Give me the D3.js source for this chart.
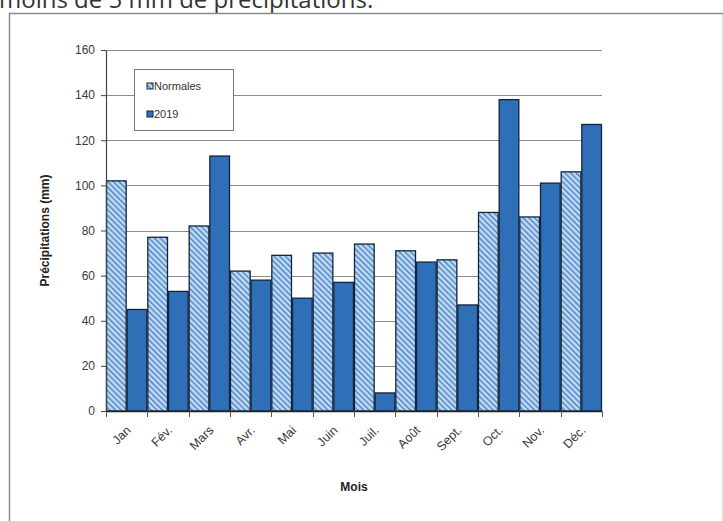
<!DOCTYPE html>
<html>
<head>
<meta charset="utf-8">
<script src="https://cdn.jsdelivr.net/npm/d3@7"></script>
<style>
  html, body { margin: 0; padding: 0; background: #fff; }
  svg { display: block; }
</style>
</head>
<body>
<svg id="chart" width="723" height="521"></svg>
<script>
// Monthly precipitation: climate normals vs. 2019 (mm)
const months = ["Jan", "Fév.", "Mars", "Avr.", "Mai", "Juin", "Juil.", "Août", "Sept.", "Oct.", "Nov.", "Déc."];
const normales = [102, 77, 82, 62, 69, 70, 74, 71, 67, 88, 86, 106];
const annee2019 = [45, 53, 113, 58, 50, 57, 8, 66, 47, 138, 101, 127];
const seriesNames = ["Normales", "2019"];
const yTicks = [0, 20, 40, 60, 80, 100, 120, 140, 160];

const svg = d3.select("#chart");
const W = 723, H = 521;
const margin = { left: 106, right: 121, top: 50, bottom: 110 };
const font = "'Liberation Sans', Arial, sans-serif";

// Preceding paragraph text, partially scrolled out of view
svg.append("text")
  .attr("x", -1).attr("y", 8)
  .attr("font-family", "'Open Sans', sans-serif")
  .attr("font-size", 24)
  .attr("fill", "#333")
  .text("moins de 5 mm de précipitations.");

// Chart frame
svg.append("rect")
  .attr("x", 9.5).attr("y", 13.5)
  .attr("width", W - 9).attr("height", H)
  .attr("fill", "#fff")
  .attr("stroke", "#8a8a8a").attr("stroke-width", 1.5);

const defs = svg.append("defs");
const hatch = defs.append("pattern")
  .attr("id", "hatch")
  .attr("patternUnits", "userSpaceOnUse")
  .attr("width", 4).attr("height", 4)
  .attr("patternTransform", "rotate(-45)");
hatch.append("rect").attr("width", 4).attr("height", 4).attr("fill", "#c0dbf4");
hatch.append("rect").attr("width", 1.4).attr("height", 4).attr("fill", "#4a80c2");

const fills = ["url(#hatch)", "#2e6fb8"];

const x0 = d3.scaleBand()
  .domain(months)
  .range([margin.left, W - margin.right])
  .paddingInner(0).paddingOuter(0);
const x1 = d3.scaleBand()
  .domain(seriesNames)
  .range([0, x0.bandwidth()])
  .padding(0);
const y = d3.scaleLinear()
  .domain([0, 160])
  .range([H - margin.bottom, margin.top]);

// Horizontal gridlines
svg.append("g")
  .selectAll("line")
  .data(yTicks.filter(d => d > 0))
  .join("line")
  .attr("x1", margin.left).attr("x2", W - margin.right)
  .attr("y1", d => Math.round(y(d)) + 0.5).attr("y2", d => Math.round(y(d)) + 0.5)
  .attr("stroke", "#8c8c8c").attr("stroke-width", 1);

// Bars
const rows = months.map((m, i) => ({ month: m, values: [normales[i], annee2019[i]] }));
const groups = svg.append("g")
  .selectAll("g")
  .data(rows)
  .join("g")
  .attr("transform", d => `translate(${x0(d.month)},0)`);
groups.selectAll("rect")
  .data(d => d.values.map((v, j) => ({ name: seriesNames[j], value: v, j })))
  .join("rect")
  .attr("x", d => x1(d.name) + 0.5)
  .attr("width", x1.bandwidth() - 1)
  .attr("y", d => y(d.value))
  .attr("height", d => y(0) - y(d.value))
  .attr("fill", d => fills[d.j])
  .attr("stroke", "#14243a").attr("stroke-width", 1.3);

// Y axis
const yAxis = d3.axisLeft(y).tickValues(yTicks).tickSize(5).tickPadding(6).tickSizeOuter(0);
const gy = svg.append("g")
  .attr("transform", `translate(${margin.left},0)`)
  .call(yAxis);
gy.select(".domain").attr("stroke", "#444").attr("stroke-width", 1.2);
gy.selectAll(".tick line").attr("stroke", "#444");
gy.selectAll(".tick text")
  .attr("font-family", font)
  .attr("font-size", 12).attr("fill", "#3a3a3a");

// X axis with ticks at category boundaries
const gx = svg.append("g")
  .attr("transform", `translate(0,${y(0)})`);
gx.append("line")
  .attr("x1", margin.left).attr("x2", W - margin.right)
  .attr("y1", 0.5).attr("y2", 0.5)
  .attr("stroke", "#222").attr("stroke-width", 1.4);
const bounds = months.map(m => x0(m)).concat([x0(months[months.length - 1]) + x0.bandwidth()]);
gx.selectAll("line.tick")
  .data(bounds)
  .join("line")
  .attr("class", "tick")
  .attr("x1", d => Math.round(d) + 0.5).attr("x2", d => Math.round(d) + 0.5)
  .attr("y1", 0).attr("y2", 6)
  .attr("stroke", "#555");
gx.selectAll("text")
  .data(months)
  .join("text")
  .attr("transform", d => `translate(${x0(d) + x0.bandwidth() / 2 + 5},${20}) rotate(-45)`)
  .attr("text-anchor", "end")
  .attr("font-family", font)
  .attr("font-size", 12.5).attr("fill", "#3a3a3a")
  .text(d => d);

// Axis titles
svg.append("text")
  .attr("transform", `translate(49,${(margin.top + y(0)) / 2}) rotate(-90)`)
  .attr("text-anchor", "middle")
  .attr("font-family", font)
  .attr("font-size", 12).attr("font-weight", "bold").attr("fill", "#222")
  .text("Précipitations (mm)");
svg.append("text")
  .attr("x", (margin.left + W - margin.right) / 2).attr("y", 491)
  .attr("text-anchor", "middle")
  .attr("font-family", font)
  .attr("font-size", 12).attr("font-weight", "bold").attr("fill", "#222")
  .text("Mois");

// Legend
const lg = svg.append("g").attr("transform", "translate(134,69)");
lg.append("rect")
  .attr("x", 0.5).attr("y", 0.5).attr("width", 99).attr("height", 61)
  .attr("fill", "#fff").attr("stroke", "#777").attr("stroke-width", 1);
seriesNames.forEach((name, i) => {
  const row = lg.append("g").attr("transform", `translate(13,${17 + i * 28})`);
  row.append("rect")
    .attr("x", 0).attr("y", -3).attr("width", 6).attr("height", 6)
    .attr("fill", fills[i]).attr("stroke", "#14243a").attr("stroke-width", 1);
  row.append("text")
    .attr("x", 7).attr("y", 4)
    .attr("font-family", font)
    .attr("font-size", 11).attr("fill", "#333")
    .text(name);
});
</script>
</body>
</html>
